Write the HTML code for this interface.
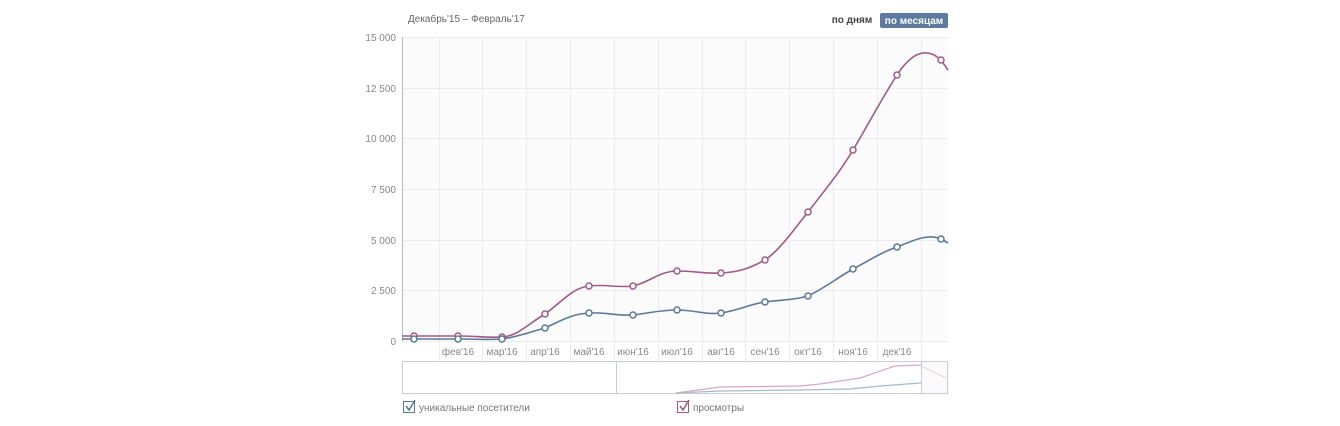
<!DOCTYPE html><html><head><meta charset="utf-8"><style>
body{margin:0;background:#fff;font-family:"Liberation Sans","DejaVu Sans",sans-serif;}
</style></head><body>
<svg width="1340" height="421" xmlns="http://www.w3.org/2000/svg" font-family="Liberation Sans, DejaVu Sans, sans-serif">
<rect x="402" y="37" width="546" height="304" fill="#fbfbfc"/>
<g stroke="#ececf0" stroke-width="1">
<line x1="402" y1="37.5" x2="948" y2="37.5"/><line x1="402" y1="88.5" x2="948" y2="88.5"/><line x1="402" y1="138.5" x2="948" y2="138.5"/><line x1="402" y1="189.5" x2="948" y2="189.5"/><line x1="402" y1="240.5" x2="948" y2="240.5"/><line x1="402" y1="290.5" x2="948" y2="290.5"/><line x1="402" y1="341.5" x2="948" y2="341.5"/>
<line x1="439.5" y1="37" x2="439.5" y2="361"/><line x1="482.5" y1="37" x2="482.5" y2="361"/><line x1="526.5" y1="37" x2="526.5" y2="361"/><line x1="570.5" y1="37" x2="570.5" y2="361"/><line x1="614.5" y1="37" x2="614.5" y2="361"/><line x1="658.5" y1="37" x2="658.5" y2="361"/><line x1="702.5" y1="37" x2="702.5" y2="361"/><line x1="745.5" y1="37" x2="745.5" y2="361"/><line x1="789.5" y1="37" x2="789.5" y2="361"/><line x1="833.5" y1="37" x2="833.5" y2="361"/><line x1="877.5" y1="37" x2="877.5" y2="361"/><line x1="921.5" y1="37" x2="921.5" y2="361"/>
</g>
<line x1="402.5" y1="37" x2="402.5" y2="341" stroke="#b8bcc8"/>
<g font-size="10" fill="#888" text-anchor="end">
<text x="396" y="41">15 000</text><text x="396" y="92">12 500</text><text x="396" y="142">10 000</text><text x="396" y="193">7 500</text><text x="396" y="244">5 000</text><text x="396" y="294">2 500</text><text x="396" y="345">0</text>
</g>
<g font-size="10" fill="#888" text-anchor="middle">
<text x="458" y="355">фев'16</text><text x="502" y="355">мар'16</text><text x="545" y="355">апр'16</text><text x="589" y="355">май'16</text><text x="633" y="355">июн'16</text><text x="677" y="355">июл'16</text><text x="721" y="355">авг'16</text><text x="765" y="355">сен'16</text><text x="808" y="355">окт'16</text><text x="853" y="355">ноя'16</text><text x="897" y="355">дек'16</text>
</g>
<text x="408" y="22" font-size="10" fill="#666">Декабрь'15 – Февраль'17</text>
<text x="852" y="23" font-size="10" font-weight="bold" fill="#444" text-anchor="middle">по дням</text>
<rect x="880" y="13" width="68" height="15" rx="2" fill="#5b7a9e"/>
<text x="914" y="24" font-size="10" font-weight="bold" fill="#fff" text-anchor="middle">по месяцам</text>
<path d="M402,336 C420,336 440,336 458,336 C475,336 490,338 502,337 C518,336 528,324 545,314 C562,302 572,288 589,286 C605,284 618,288 633,286 C648,283 660,271 677,271 C695,271 705,274 721,273 C740,272 750,268 765,260 C780,250 795,228 808,212 C825,190 840,172 853,150 C868,125 882,98 897,75 C910,55 925,45 941,60 L948,70" fill="none" stroke="#a05a85" stroke-width="1.6"/>
<path d="M402,339 L458,339 C475,339 490,340 502,339 C518,337 530,332 545,328 C562,320 572,314 589,313 C605,312 618,316 633,315 C650,313 660,310 677,310 C695,310 705,315 721,313 C740,310 750,304 765,302 C780,300 795,300 808,296 C825,288 840,276 853,269 C870,260 882,252 897,247 C912,241 928,233 941,239 L948,243" fill="none" stroke="#5a7898" stroke-width="1.6"/>
<g fill="#fff" stroke="#a05a85" stroke-width="1.5">
<circle cx="414" cy="336" r="3"/><circle cx="458" cy="336" r="3"/><circle cx="502" cy="337" r="3"/><circle cx="545" cy="314" r="3"/><circle cx="589" cy="286" r="3"/><circle cx="633" cy="286" r="3"/><circle cx="677" cy="271" r="3"/><circle cx="721" cy="273" r="3"/><circle cx="765" cy="260" r="3"/><circle cx="808" cy="212" r="3"/><circle cx="853" cy="150" r="3"/><circle cx="897" cy="75" r="3"/><circle cx="941" cy="60" r="3"/>
</g>
<g fill="#fff" stroke="#5a7898" stroke-width="1.5">
<circle cx="414" cy="339" r="3"/><circle cx="458" cy="339" r="3"/><circle cx="502" cy="339" r="3"/><circle cx="545" cy="328" r="3"/><circle cx="589" cy="313" r="3"/><circle cx="633" cy="315" r="3"/><circle cx="677" cy="310" r="3"/><circle cx="721" cy="313" r="3"/><circle cx="765" cy="302" r="3"/><circle cx="808" cy="296" r="3"/><circle cx="853" cy="269" r="3"/><circle cx="897" cy="247" r="3"/><circle cx="941" cy="239" r="3"/>
</g>
<rect x="402" y="361" width="546" height="32" fill="#fff"/>
<rect x="921" y="361" width="27" height="32" fill="#fafafb"/>
<rect x="402.5" y="361.5" width="545" height="32" fill="none" stroke="#c8ccd6"/>
<line x1="616.5" y1="361" x2="616.5" y2="393" stroke="#c8ccd6"/>
<line x1="921.5" y1="361" x2="921.5" y2="393" stroke="#c8ccd6"/>
<path d="M676,393 L720,387 L800,386 L820,384 L860,378 L895,366 L921,365" fill="none" stroke="#d7a8c4" stroke-width="1.2"/>
<path d="M676,393 L720,391 L800,390 L850,389 L880,386 L921,383" fill="none" stroke="#a9b8cc" stroke-width="1.2"/>
<path d="M921,366 L946,378" stroke="#e5d5df" fill="none"/>
<rect x="403.5" y="401.5" width="11" height="11" fill="#fff" stroke="#5a7898"/>
<path d="M406,406 L409,410 L415,400" fill="none" stroke="#5a7898" stroke-width="1.6"/>
<text x="419" y="411" font-size="10" fill="#777">уникальные посетители</text>
<rect x="677.5" y="401.5" width="11" height="11" fill="#fff" stroke="#a05a85"/>
<path d="M680,406 L683,410 L689,400" fill="none" stroke="#a05a85" stroke-width="1.6"/>
<text x="693" y="411" font-size="10" fill="#777">просмотры</text>
</svg>
</body></html>
